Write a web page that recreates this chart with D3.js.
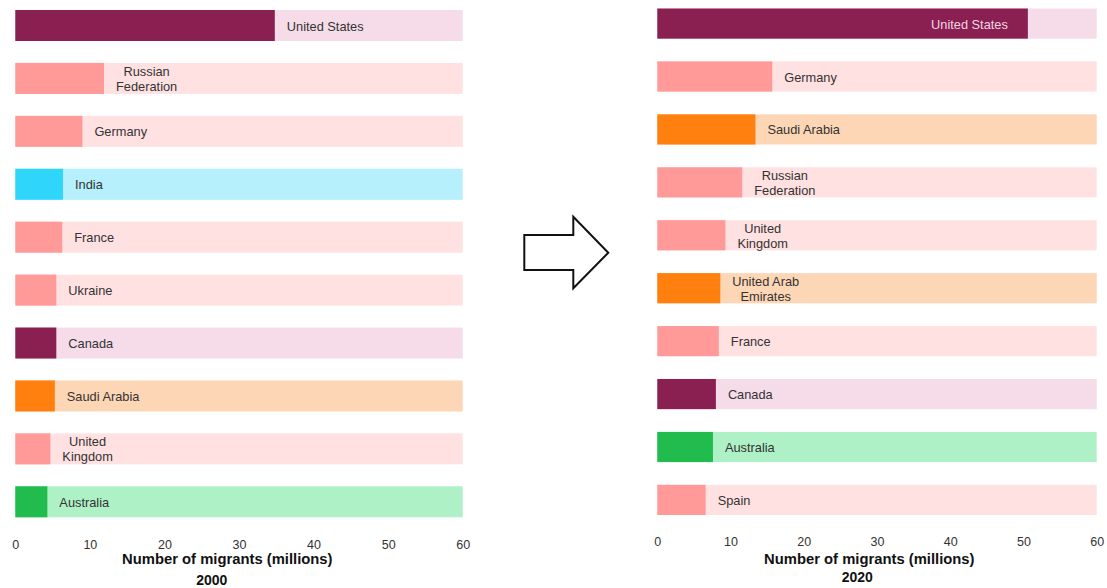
<!DOCTYPE html>
<html>
<head>
<meta charset="utf-8">
<script src="https://cdn.jsdelivr.net/npm/d3@7"></script>
<style>
  html, body { margin: 0; padding: 0; background: #fff; }
  svg { display: block; font-family: "Liberation Sans", Arial, sans-serif; }
</style>
</head>
<body>
<svg id="chart" width="1107" height="588"></svg>
<script>
// ---- Data ----
const countries2000 = ["United States", "Russian Federation", "Germany", "India", "France", "Ukraine", "Canada", "Saudi Arabia", "United Kingdom", "Australia"];
const migrants2000 = [34.8, 11.9, 9.0, 6.4, 6.3, 5.5, 5.5, 5.3, 4.7, 4.3];
const regions2000 = ["NorthAmerica", "Europe", "Europe", "Asia", "Europe", "Europe", "NorthAmerica", "Gulf", "Europe", "Oceania"];

const countries2020 = ["United States", "Germany", "Saudi Arabia", "Russian Federation", "United Kingdom", "United Arab Emirates", "France", "Canada", "Australia", "Spain"];
const migrants2020 = [50.6, 15.7, 13.4, 11.6, 9.3, 8.6, 8.4, 8.0, 7.6, 6.6];
const regions2020 = ["NorthAmerica", "Europe", "Gulf", "Europe", "Europe", "Gulf", "Europe", "NorthAmerica", "Oceania", "Europe"];

const xTicks = [0, 10, 20, 30, 40, 50, 60];
const xMax = 60;
const axisTitle = "Number of migrants (millions)";
const labelLines = {
  "Russian Federation": ["Russian", "Federation"],
  "United Kingdom": ["United", "Kingdom"],
  "United Arab Emirates": ["United Arab", "Emirates"]
};

const regionColor = {
  NorthAmerica: { dark: "#8A1F51", light: "#F6DCE9" },
  Europe:       { dark: "#FF9A98", light: "#FFE1E2" },
  Asia:         { dark: "#2FD6FA", light: "#B5F0FC" },
  Gulf:         { dark: "#FF7F0F", light: "#FDD6B5" },
  Oceania:      { dark: "#22BB4E", light: "#AFF1C7" }
};

const svg = d3.select("#chart");

function panel(cfg) {
  const g = svg.append("g");
  const x = d3.scaleLinear().domain([0, xMax]).range([cfg.x0, cfg.x1]);
  const y = d3.scaleBand().domain(cfg.countries).range([cfg.y0, cfg.y1]).paddingInner(cfg.pad).paddingOuter(0);
  const rows = cfg.countries.map((c, i) => ({ c, v: cfg.values[i], r: cfg.regions[i] }));

  g.selectAll("rect.bg").data(rows).join("rect")
    .attr("class", "bg")
    .attr("x", x(0)).attr("y", d => y(d.c))
    .attr("width", x(xMax) - x(0)).attr("height", y.bandwidth())
    .attr("fill", d => regionColor[d.r].light);

  g.selectAll("rect.val").data(rows).join("rect")
    .attr("class", "val")
    .attr("x", x(0)).attr("y", d => y(d.c))
    .attr("width", d => x(d.v) - x(0)).attr("height", y.bandwidth())
    .attr("fill", d => regionColor[d.r].dark);

  rows.forEach(d => {
    const lines = labelLines[d.c] || [d.c];
    const cy = y(d.c) + y.bandwidth() / 2;
    const inside = cfg.insideLabel === d.c;
    const t = g.append("text")
      .attr("font-size", "12.8px")
      .attr("fill", inside ? "#F3D6E3" : "#333")
      .attr("dominant-baseline", "central");
    const spans = lines.map((ln, k) => t.append("tspan")
      .attr("y", cy + (k - (lines.length - 1) / 2) * 15)
      .text(ln));
    if (inside) {
      t.attr("text-anchor", "end");
      spans.forEach(s => s.attr("x", x(d.v) - 20));
    } else {
      const widths = spans.map(s => s.node().getComputedTextLength());
      const maxW = d3.max(widths);
      const cx = x(d.v) + 12 + maxW / 2;
      t.attr("text-anchor", "middle");
      spans.forEach(s => s.attr("x", cx));
    }
  });

  const axis = d3.axisBottom(x).tickValues(xTicks).tickSize(0).tickPadding(0);
  const ag = g.append("g").attr("transform", `translate(0,${cfg.tickY})`).call(axis);
  ag.select(".domain").remove();
  ag.selectAll("text")
    .attr("font-family", "Liberation Sans, Arial, sans-serif")
    .attr("font-size", "12.5px")
    .attr("fill", "#333")
    .attr("dy", "0.35em")
    .attr("y", 0);

  g.append("text")
    .attr("x", cfg.x0 + 212).attr("y", cfg.titleY)
    .attr("text-anchor", "middle").attr("dominant-baseline", "central")
    .attr("font-size", "14.8px").attr("font-weight", "bold").attr("fill", "#111")
    .text(axisTitle);

  g.append("text")
    .attr("x", cfg.x0 + cfg.yearDx).attr("y", cfg.yearY)
    .attr("text-anchor", "middle").attr("dominant-baseline", "central")
    .attr("font-size", "14px").attr("font-weight", "bold").attr("fill", "#111")
    .text(cfg.year);
}

panel({
  countries: countries2000, values: migrants2000, regions: regions2000,
  x0: 15.3, x1: 462.7, y0: 10, y1: 517.3, pad: 0.414,
  tickY: 545, titleY: 559, yearY: 580, yearDx: 196.5, year: "2000",
  insideLabel: null
});

panel({
  countries: countries2020, values: migrants2020, regions: regions2020,
  x0: 657.3, x1: 1096.7, y0: 8.5, y1: 515, pad: 0.43,
  tickY: 542, titleY: 559, yearY: 576.5, yearDx: 200, year: "2020",
  insideLabel: "United States"
});

const arrowPts = [[524.3, 235], [573.3, 235], [573.3, 216.7], [608.3, 252.7], [573.3, 288.3], [573.3, 270], [524.3, 270]];
svg.append("path")
  .attr("d", d3.line()(arrowPts) + "Z")
  .attr("fill", "#fff").attr("stroke", "#111").attr("stroke-width", 2)
  .attr("stroke-linejoin", "miter");
</script>
</body>
</html>
